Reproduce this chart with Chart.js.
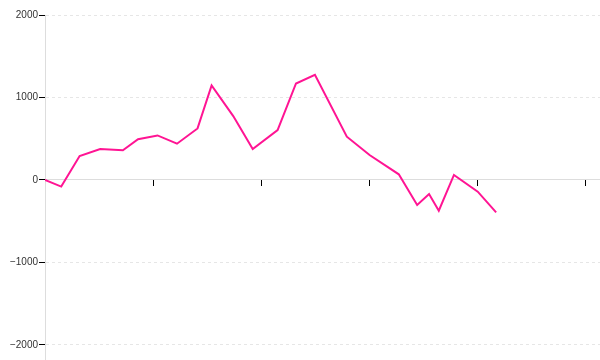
<!DOCTYPE html>
<html>
<head>
<meta charset="utf-8">
<script src="https://cdn.jsdelivr.net/npm/chart.js@4"></script>
<style>
  html, body { margin: 0; padding: 0; background: #fff; }
  #chart { display: block; }
</style>
</head>
<body>
<canvas id="chart" width="600" height="360"></canvas>
<script>
// positions along the x axis (no labels are shown in the original)
const xValues = [0, 1.5, 3.2, 5.1, 7.2, 8.6, 10.4, 12.2, 14.1, 15.4, 17.4, 19.2, 21.5, 23.2, 24.95,
  27.9, 30.0, 32.7, 34.4, 35.5, 36.4, 37.8, 40.0, 41.7];
const yValues = [0, -80, 290, 375, 360, 495, 540, 440, 625, 1145, 775, 375, 605, 1170, 1275,
  525, 303, 69, -303, -170, -372, 61, -142, -392];
const yTicks = [2000, 1000, 0, -1000, -2000];
const xTicks = [0, 10, 20, 30, 40, 50];

let points = xValues.map((x, i) => ({ x: x, y: yValues[i] }));

Chart.defaults.font.family = "'Liberation Sans', Arial, sans-serif";
Chart.defaults.font.size = 10;
Chart.defaults.color = '#333';

let chart = new Chart(document.getElementById('chart'), {
  type: 'line',
  data: {
    datasets: [{
      data: points,
      borderColor: '#ff1493',
      borderWidth: 2,
      pointRadius: 0,
      tension: 0,
      fill: false
    }]
  },
  options: {
    responsive: false,
    animation: false,
    devicePixelRatio: 1,
    layout: {
      padding: { top: 15, right: 0, bottom: 0, left: 0 }
    },
    plugins: {
      legend: { display: false },
      tooltip: { enabled: false }
    },
    scales: {
      x: {
        type: 'linear',
        position: { y: 0 },
        min: 0,
        max: 51.3,
        afterBuildTicks: (scale) => {
          scale.ticks = xTicks.map(v => ({ value: v }));
        },
        ticks: { display: false },
        grid: {
          drawOnChartArea: false,
          drawTicks: true,
          tickLength: 6,
          tickColor: '#000'
        },
        border: { color: '#ddd', width: 1 }
      },
      y: {
        min: -2182,
        max: 2000,
        afterBuildTicks: (scale) => {
          scale.ticks = yTicks.map(v => ({ value: v }));
        },
        afterFit: (scale) => {
          scale.width = 45;
          scale.paddingTop = 0;
          scale.paddingBottom = 0;
        },
        ticks: {
          padding: 1,
          callback: (v) => v < 0 ? '\u2212' + Math.abs(v) : String(v)
        },
        grid: {
          color: (ctx) => ctx.tick && ctx.tick.value === 0 ? 'rgba(0,0,0,0)' : '#e6e6e6',
          tickColor: '#000',
          tickLength: 6
        },
        border: { color: '#ddd', width: 1, dash: [3, 3] }
      }
    }
  }
});
</script>
</body>
</html>
